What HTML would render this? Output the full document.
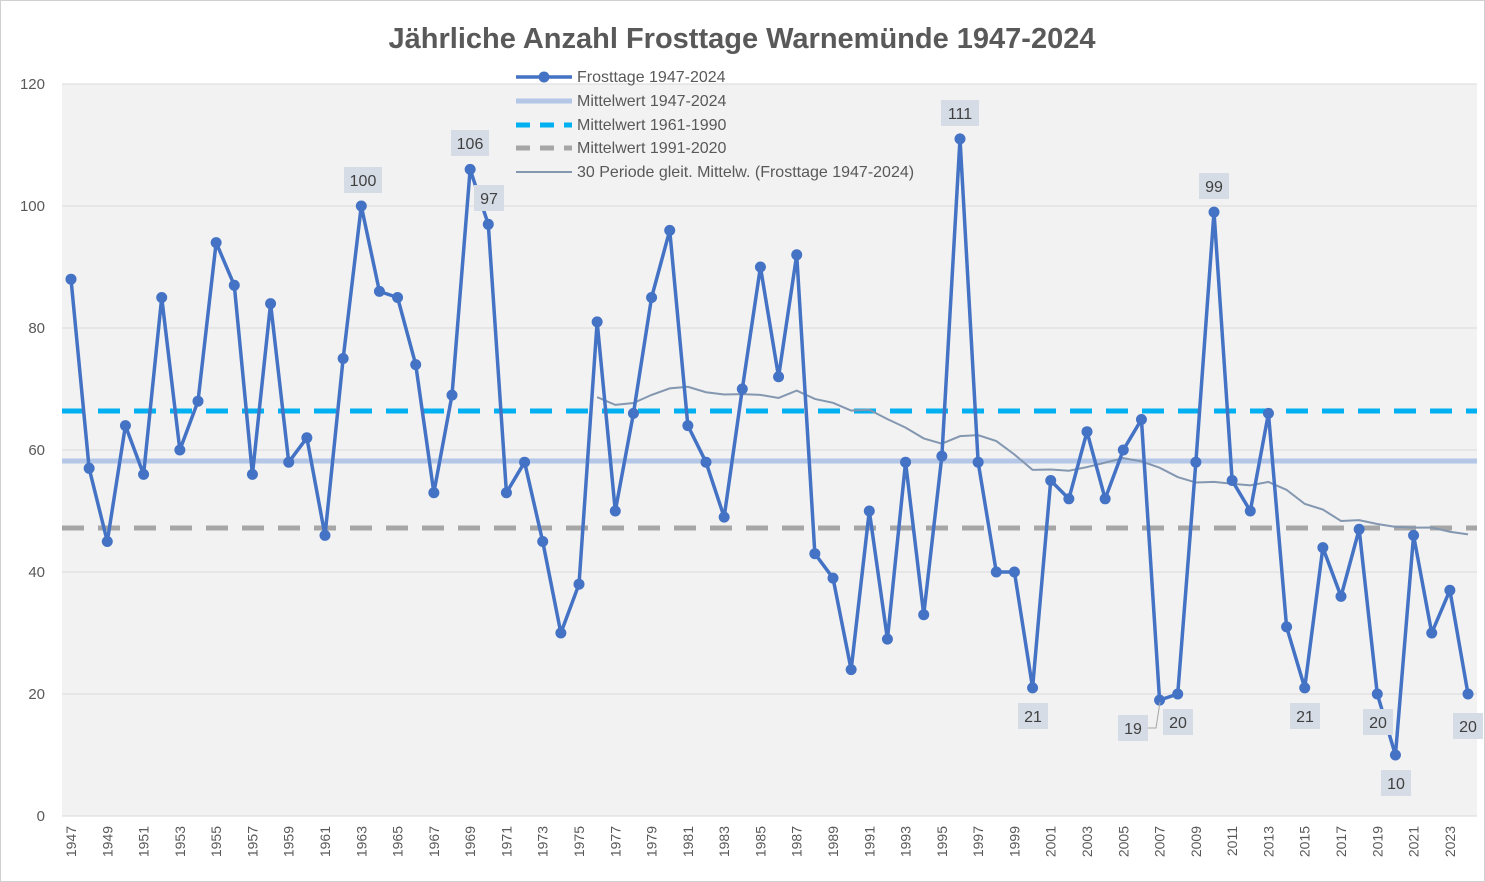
<!DOCTYPE html>
<html><head><meta charset="utf-8"><style>
html,body{margin:0;padding:0;background:#fff}
svg{display:block;font-family:"Liberation Sans",sans-serif}
</style></head><body>
<svg id="s" width="1485" height="882" viewBox="0 0 1485 882">
<rect x="0.5" y="0.5" width="1484" height="881" fill="#fff" stroke="#d0d0d0"/>
<rect x="62" y="84" width="1415" height="732" fill="#f2f2f2"/>
<g id="grid" stroke="#d9d9d9" stroke-width="1"></g>
<text x="742" y="48" text-anchor="middle" font-size="29" font-weight="bold" fill="#595959">Jährliche Anzahl Frosttage Warnemünde 1947-2024</text>
<g font-size="15" fill="#595959" text-anchor="end">
<text x="45" y="89">120</text><text x="45" y="211">100</text><text x="45" y="333">80</text><text x="45" y="455">60</text><text x="45" y="577">40</text><text x="45" y="699">20</text><text x="45" y="821">0</text>
</g>
<g font-size="14" fill="#595959" text-anchor="end">
<text transform="translate(76,826) rotate(-90)">1947</text>
<text transform="translate(112.3,826) rotate(-90)">1949</text>
<text transform="translate(148.6,826) rotate(-90)">1951</text>
<text transform="translate(184.9,826) rotate(-90)">1953</text>
<text transform="translate(221.1,826) rotate(-90)">1955</text>
<text transform="translate(257.4,826) rotate(-90)">1957</text>
<text transform="translate(293.7,826) rotate(-90)">1959</text>
<text transform="translate(330,826) rotate(-90)">1961</text>
<text transform="translate(366.3,826) rotate(-90)">1963</text>
<text transform="translate(402.6,826) rotate(-90)">1965</text>
<text transform="translate(438.9,826) rotate(-90)">1967</text>
<text transform="translate(475.1,826) rotate(-90)">1969</text>
<text transform="translate(511.4,826) rotate(-90)">1971</text>
<text transform="translate(547.7,826) rotate(-90)">1973</text>
<text transform="translate(584,826) rotate(-90)">1975</text>
<text transform="translate(620.3,826) rotate(-90)">1977</text>
<text transform="translate(656.6,826) rotate(-90)">1979</text>
<text transform="translate(692.9,826) rotate(-90)">1981</text>
<text transform="translate(729.1,826) rotate(-90)">1983</text>
<text transform="translate(765.4,826) rotate(-90)">1985</text>
<text transform="translate(801.7,826) rotate(-90)">1987</text>
<text transform="translate(838,826) rotate(-90)">1989</text>
<text transform="translate(874.3,826) rotate(-90)">1991</text>
<text transform="translate(910.6,826) rotate(-90)">1993</text>
<text transform="translate(946.9,826) rotate(-90)">1995</text>
<text transform="translate(983.1,826) rotate(-90)">1997</text>
<text transform="translate(1019.4,826) rotate(-90)">1999</text>
<text transform="translate(1055.7,826) rotate(-90)">2001</text>
<text transform="translate(1092,826) rotate(-90)">2003</text>
<text transform="translate(1128.3,826) rotate(-90)">2005</text>
<text transform="translate(1164.6,826) rotate(-90)">2007</text>
<text transform="translate(1200.9,826) rotate(-90)">2009</text>
<text transform="translate(1237.1,826) rotate(-90)">2011</text>
<text transform="translate(1273.4,826) rotate(-90)">2013</text>
<text transform="translate(1309.7,826) rotate(-90)">2015</text>
<text transform="translate(1346,826) rotate(-90)">2017</text>
<text transform="translate(1382.3,826) rotate(-90)">2019</text>
<text transform="translate(1418.6,826) rotate(-90)">2021</text>
<text transform="translate(1454.9,826) rotate(-90)">2023</text>
</g>
<line x1="62" y1="411" x2="1477" y2="411" stroke="#00b0f0" stroke-width="5" stroke-dasharray="22,14"/>
<line x1="62" y1="461" x2="1477" y2="461" stroke="#b4c7e7" stroke-width="5"/>
<line x1="62" y1="528" x2="1477" y2="528" stroke="#a6a6a6" stroke-width="5" stroke-dasharray="22,14"/>
<polyline id="ma" fill="none" stroke="#8497b0" stroke-width="2"/>
<polyline id="ln" fill="none" stroke="#4472c4" stroke-width="3.5" stroke-linejoin="round"/>
<g id="dots" fill="#4472c4"></g>
<g font-size="16" fill="#404040" text-anchor="middle">
<rect x="344" y="167" width="38" height="26" fill="#d6dce5"/><text x="363" y="186">100</text>
<rect x="451" y="130" width="38" height="26" fill="#d6dce5"/><text x="470" y="149">106</text>
<rect x="474" y="185" width="30" height="26" fill="#d6dce5"/><text x="489" y="204">97</text>
<rect x="941" y="100" width="38" height="26" fill="#d6dce5"/><text x="960" y="119">111</text>
<rect x="1199" y="173" width="30" height="26" fill="#d6dce5"/><text x="1214" y="192">99</text>
<rect x="1018" y="703" width="30" height="26" fill="#d6dce5"/><text x="1033" y="722">21</text>
<rect x="1118" y="715" width="30" height="26" fill="#d6dce5"/><text x="1133" y="734">19</text>
<rect x="1163" y="709" width="30" height="26" fill="#d6dce5"/><text x="1178" y="728">20</text>
<rect x="1290" y="703" width="30" height="26" fill="#d6dce5"/><text x="1305" y="722">21</text>
<rect x="1363" y="709" width="30" height="26" fill="#d6dce5"/><text x="1378" y="728">20</text>
<rect x="1381" y="770" width="30" height="26" fill="#d6dce5"/><text x="1396" y="789">10</text>
<rect x="1453" y="713" width="30" height="26" fill="#d6dce5"/><text x="1468" y="732">20</text>
</g>
<polyline points="1148,728 1156,728 1160,702" fill="none" stroke="#a6a6a6" stroke-width="1"/>
<g font-size="16" fill="#595959">
<line x1="516" y1="77" x2="572" y2="77" stroke="#4472c4" stroke-width="3.5"/><circle cx="544" cy="77" r="5.5" fill="#4472c4"/>
<text x="577" y="82">Frosttage 1947-2024</text>
<line x1="516" y1="101" x2="572" y2="101" stroke="#b4c7e7" stroke-width="5"/>
<text x="577" y="106">Mittelwert 1947-2024</text>
<line x1="516" y1="125" x2="572" y2="125" stroke="#00b0f0" stroke-width="5" stroke-dasharray="14,10"/>
<text x="577" y="130">Mittelwert 1961-1990</text>
<line x1="516" y1="148" x2="572" y2="148" stroke="#a6a6a6" stroke-width="5" stroke-dasharray="14,10"/>
<text x="577" y="153">Mittelwert 1991-2020</text>
<line x1="516" y1="172" x2="572" y2="172" stroke="#8497b0" stroke-width="2"/>
<text x="577" y="177">30 Periode gleit. Mittelw. (Frosttage 1947-2024)</text>
</g>
</svg>
<script>
var d=[88,57,45,64,56,85,60,68,94,87,56,84,58,62,46,75,100,86,85,74,53,69,106,97,53,58,45,30,38,81,50,66,85,96,64,58,49,70,90,72,92,43,39,24,50,29,58,33,59,111,58,40,40,21,55,52,63,52,60,65,19,20,58,99,55,50,66,31,21,44,36,47,20,10,46,30,37,20];
function X(i){return 71+i*18.143}function Y(v){return 816-v*6.1}
var g=document.getElementById('grid'),ns='http://www.w3.org/2000/svg';
for(var v=0;v<=120;v+=20){var l=document.createElementNS(ns,'line');l.setAttribute('x1',62);l.setAttribute('x2',1477);l.setAttribute('y1',Y(v));l.setAttribute('y2',Y(v));g.appendChild(l);}
var p=[],dt=document.getElementById('dots');
d.forEach(function(v,i){p.push(X(i)+','+Y(v));var c=document.createElementNS(ns,'circle');c.setAttribute('cx',X(i));c.setAttribute('cy',Y(v));c.setAttribute('r',5.5);dt.appendChild(c);});
document.getElementById('ln').setAttribute('points',p.join(' '));
var m=[];for(var i=29;i<d.length;i++){var s=0;for(var k=i-29;k<=i;k++)s+=d[k];m.push(X(i)+','+Y(s/30));}
document.getElementById('ma').setAttribute('points',m.join(' '));
</script>
</body></html>
